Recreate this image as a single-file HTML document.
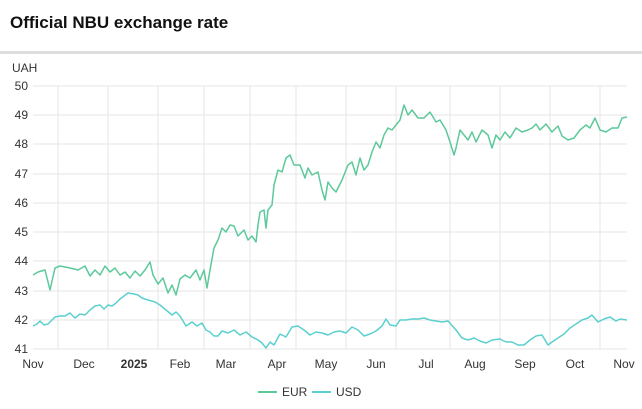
<!DOCTYPE html>
<html><head><meta charset="utf-8"><style>
body{margin:0;width:642px;height:404px;background:#fff;font-family:"Liberation Sans",sans-serif;overflow:hidden}
</style></head><body>
<svg width="642" height="404" xmlns="http://www.w3.org/2000/svg" font-family="Liberation Sans, sans-serif">
<text x="10" y="28" font-size="17" font-weight="bold" fill="#111">Official NBU exchange rate</text>
<rect x="0" y="51" width="642" height="3" fill="#ddd"/>
<text x="12" y="72" font-size="12" fill="#333">UAH</text>
<g stroke="#e6e6e6" stroke-width="1">
<line x1="33" x2="627" y1="86" y2="86"/><line x1="33" x2="627" y1="115" y2="115"/><line x1="33" x2="627" y1="144" y2="144"/><line x1="33" x2="627" y1="174" y2="174"/><line x1="33" x2="627" y1="203" y2="203"/><line x1="33" x2="627" y1="232" y2="232"/><line x1="33" x2="627" y1="261" y2="261"/><line x1="33" x2="627" y1="291" y2="291"/><line x1="33" x2="627" y1="320" y2="320"/><line x1="33" x2="627" y1="349" y2="349"/>
<line x1="58" x2="58" y1="86" y2="349"/><line x1="108" x2="108" y1="86" y2="349"/><line x1="158" x2="158" y1="86" y2="349"/><line x1="204" x2="204" y1="86" y2="349"/><line x1="250" x2="250" y1="86" y2="349"/><line x1="296" x2="296" y1="86" y2="349"/><line x1="346" x2="346" y1="86" y2="349"/><line x1="396" x2="396" y1="86" y2="349"/><line x1="450" x2="450" y1="86" y2="349"/><line x1="500" x2="500" y1="86" y2="349"/><line x1="550" x2="550" y1="86" y2="349"/><line x1="600" x2="600" y1="86" y2="349"/>
</g>
<g font-size="12" fill="#333" text-anchor="end">
<text x="28" y="90">50</text><text x="28" y="119">49</text><text x="28" y="148">48</text><text x="28" y="178">47</text><text x="28" y="207">46</text><text x="28" y="236">45</text><text x="28" y="265">44</text><text x="28" y="295">43</text><text x="28" y="324">42</text><text x="28" y="353">41</text>
</g>
<g font-size="12" fill="#333" text-anchor="middle">
<text x="33" y="368">Nov</text><text x="84" y="368">Dec</text><text x="134" y="368" font-weight="bold">2025</text><text x="180" y="368">Feb</text><text x="226" y="368">Mar</text><text x="277" y="368">Apr</text><text x="326" y="368">May</text><text x="376" y="368">Jun</text><text x="426" y="368">Jul</text><text x="475" y="368">Aug</text><text x="525" y="368">Sep</text><text x="575" y="368">Oct</text><text x="624" y="368">Nov</text>
</g>
<polyline fill="none" stroke="#5cc99a" stroke-width="1.5" stroke-linejoin="round" points="33,275 38,272 45,270 50,290 55,268 60,266 70,268 78,270 85,266 90,276 95,270 100,275 105,266 110,272 115,268 120,275 125,272 130,278 135,271 140,276 145,270 150,262 153,275 158,284 163,278 168,293 172,285 176,295 180,279 185,275 190,278 196,270 200,280 204,270 207,288 210,270 214,248 218,240 222,228 226,232 230,225 234,226 238,236 244,230 248,240 252,236 256,242 258,225 260,212 264,210 266,228 268,210 272,205 274,185 278,170 282,172 286,158 290,155 294,165 300,165 305,178 308,168 312,175 318,172 322,190 325,200 328,182 332,188 336,192 342,180 348,165 352,162 356,175 360,158 364,170 368,165 372,152 376,142 380,148 384,135 388,128 392,130 396,125 400,120 404,105 408,115 412,110 418,118 424,118 430,112 436,122 440,120 446,130 450,142 454,155 456,148 460,130 464,135 468,140 472,132 476,142 482,130 488,135 492,148 496,135 500,140 505,132 510,138 516,128 522,132 528,130 532,128 536,124 540,130 546,124 552,132 558,126 562,136 568,140 574,138 580,130 586,125 590,128 595,118 600,130 606,132 612,128 618,128 622,118 627,117"/>
<polyline fill="none" stroke="#5ccfcf" stroke-width="1.5" stroke-linejoin="round" points="33,326 37,324 40,321 44,325 48,324 55,317 60,316 65,316 70,313 75,318 80,314 85,315 90,310 95,306 100,305 104,309 108,305 112,306 116,303 120,299 124,296 128,293 134,294 138,295 142,298 148,300 155,302 160,305 166,310 172,315 176,312 180,316 186,326 192,322 197,326 202,323 206,330 210,332 214,336 218,336 222,331 228,333 234,330 240,335 246,332 252,337 258,340 262,343 266,348 270,342 274,345 280,334 286,337 292,327 298,326 304,330 310,335 316,332 322,333 328,335 334,332 340,331 346,333 352,327 358,330 364,336 370,334 376,331 382,326 386,319 390,325 396,326 400,320 406,320 412,319 418,319 424,318 430,320 436,321 442,322 448,321 456,330 462,338 468,340 474,338 480,341 486,343 492,340 500,339 506,342 512,342 518,345 524,345 530,340 536,336 542,335 548,345 552,342 558,338 564,334 570,328 576,324 582,320 588,318 592,315 598,322 604,319 610,317 616,321 620,319 627,320"/>
<line x1="258" x2="277" y1="392" y2="392" stroke="#5cc99a" stroke-width="2"/>
<text x="282" y="396" font-size="12" fill="#333">EUR</text>
<line x1="312" x2="331" y1="392" y2="392" stroke="#5ccfcf" stroke-width="2"/>
<text x="336" y="396" font-size="12" fill="#333">USD</text>
</svg>
</body></html>
